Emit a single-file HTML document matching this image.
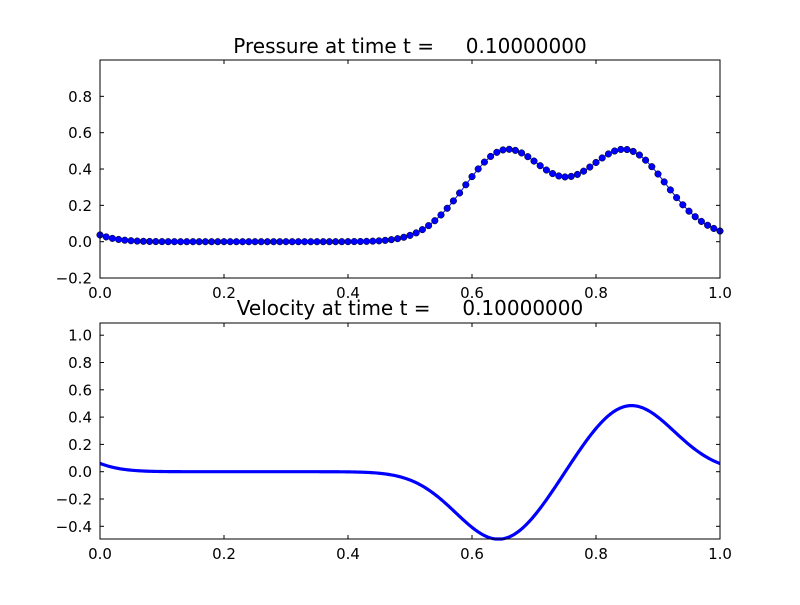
<!DOCTYPE html>
<html><head><meta charset="utf-8"><style>
html,body{margin:0;padding:0;background:#fff;}
svg text{font-family:"DejaVu Sans","Liberation Sans",sans-serif;fill:#000;}
</style></head><body>
<svg id="s" width="800" height="600" viewBox="0 0 800 600" xmlns="http://www.w3.org/2000/svg">
<rect width="800" height="600" fill="#fff"/>
<text x="410" y="53" font-size="20" text-anchor="middle" xml:space="preserve">Pressure at time t =     0.10000000</text>
<text x="410" y="315" font-size="20" text-anchor="middle" xml:space="preserve">Velocity at time t =     0.10000000</text>
</svg>
<script>
var s=document.getElementById('s'),NS="http://www.w3.org/2000/svg";
function el(t,a){var e=document.createElementNS(NS,t);for(var k in a)e.setAttribute(k,a[k]);s.appendChild(e);return e;}
function tx(x,y,str,anc){var e=el('text',{x:x,y:y,'font-size':15,'text-anchor':anc});e.textContent=str;}
var L=100,R=720;
function X(v){return L+(R-L)*v;}
function g(x,c,w){return Math.exp(-Math.pow((x-c)/w,2));}
function P(x){return 0.5*g(x,0.655,0.095)+0.5*g(x,0.848,0.095)+0.45*g(x,-0.15,0.095)+0.02*g(x,1.0,0.06);}
function V(x){return -0.5*g(x,0.645,0.1)+0.49*g(x,0.855,0.1)+0.5*g(x,-0.145,0.1);}
var T1=60,B1=278;function Y1(v){return 241.7-181.7*v;}
var T2=323,B2=539;function Y2(v){return 471.7-136.5*v;}
var d="";for(var i=0;i<=100;i++){var x=i/100;d+=(i?"L":"M")+X(x).toFixed(2)+","+Y1(P(x)).toFixed(2);}
el('path',{d:d,fill:'none',stroke:'#0000ff','stroke-width':1});
for(var i=0;i<=100;i++){var x=i/100;el('circle',{cx:X(x),cy:Y1(P(x)),r:3.3,fill:'#0000ff',stroke:'#000','stroke-width':0.5});}
d="";for(var i=0;i<=400;i++){var x=i/400;var y=Math.max(T2,Math.min(B2,Y2(V(x))));d+=(i?"L":"M")+X(x).toFixed(2)+","+y.toFixed(2);}
el('path',{d:d,fill:'none',stroke:'#0000ff','stroke-width':3.2,'stroke-linejoin':'round'});
function axes(T,B,Y,ticks){
 el('rect',{x:L,y:T,width:R-L,height:B-T,fill:'none',stroke:'#000','stroke-width':1});
 for(var i=0;i<=5;i++){var x=X(i/5);el('line',{x1:x,x2:x,y1:B,y2:B-4,stroke:'#000'});el('line',{x1:x,x2:x,y1:T,y2:T+4,stroke:'#000'});tx(x,B+20,(i/5).toFixed(1),'middle');}
 ticks.forEach(function(v){var y=Y(v);el('line',{x1:L,x2:L+4,y1:y,y2:y,stroke:'#000'});el('line',{x1:R,x2:R-4,y1:y,y2:y,stroke:'#000'});
  tx(92,y+5.5,(v<0?"\u2212":"")+Math.abs(v).toFixed(1),'end');});
}
axes(T1,B1,Y1,[-0.2,0,0.2,0.4,0.6,0.8]);
axes(T2,B2,Y2,[-0.4,-0.2,0,0.2,0.4,0.6,0.8,1.0]);
</script>
</body></html>
